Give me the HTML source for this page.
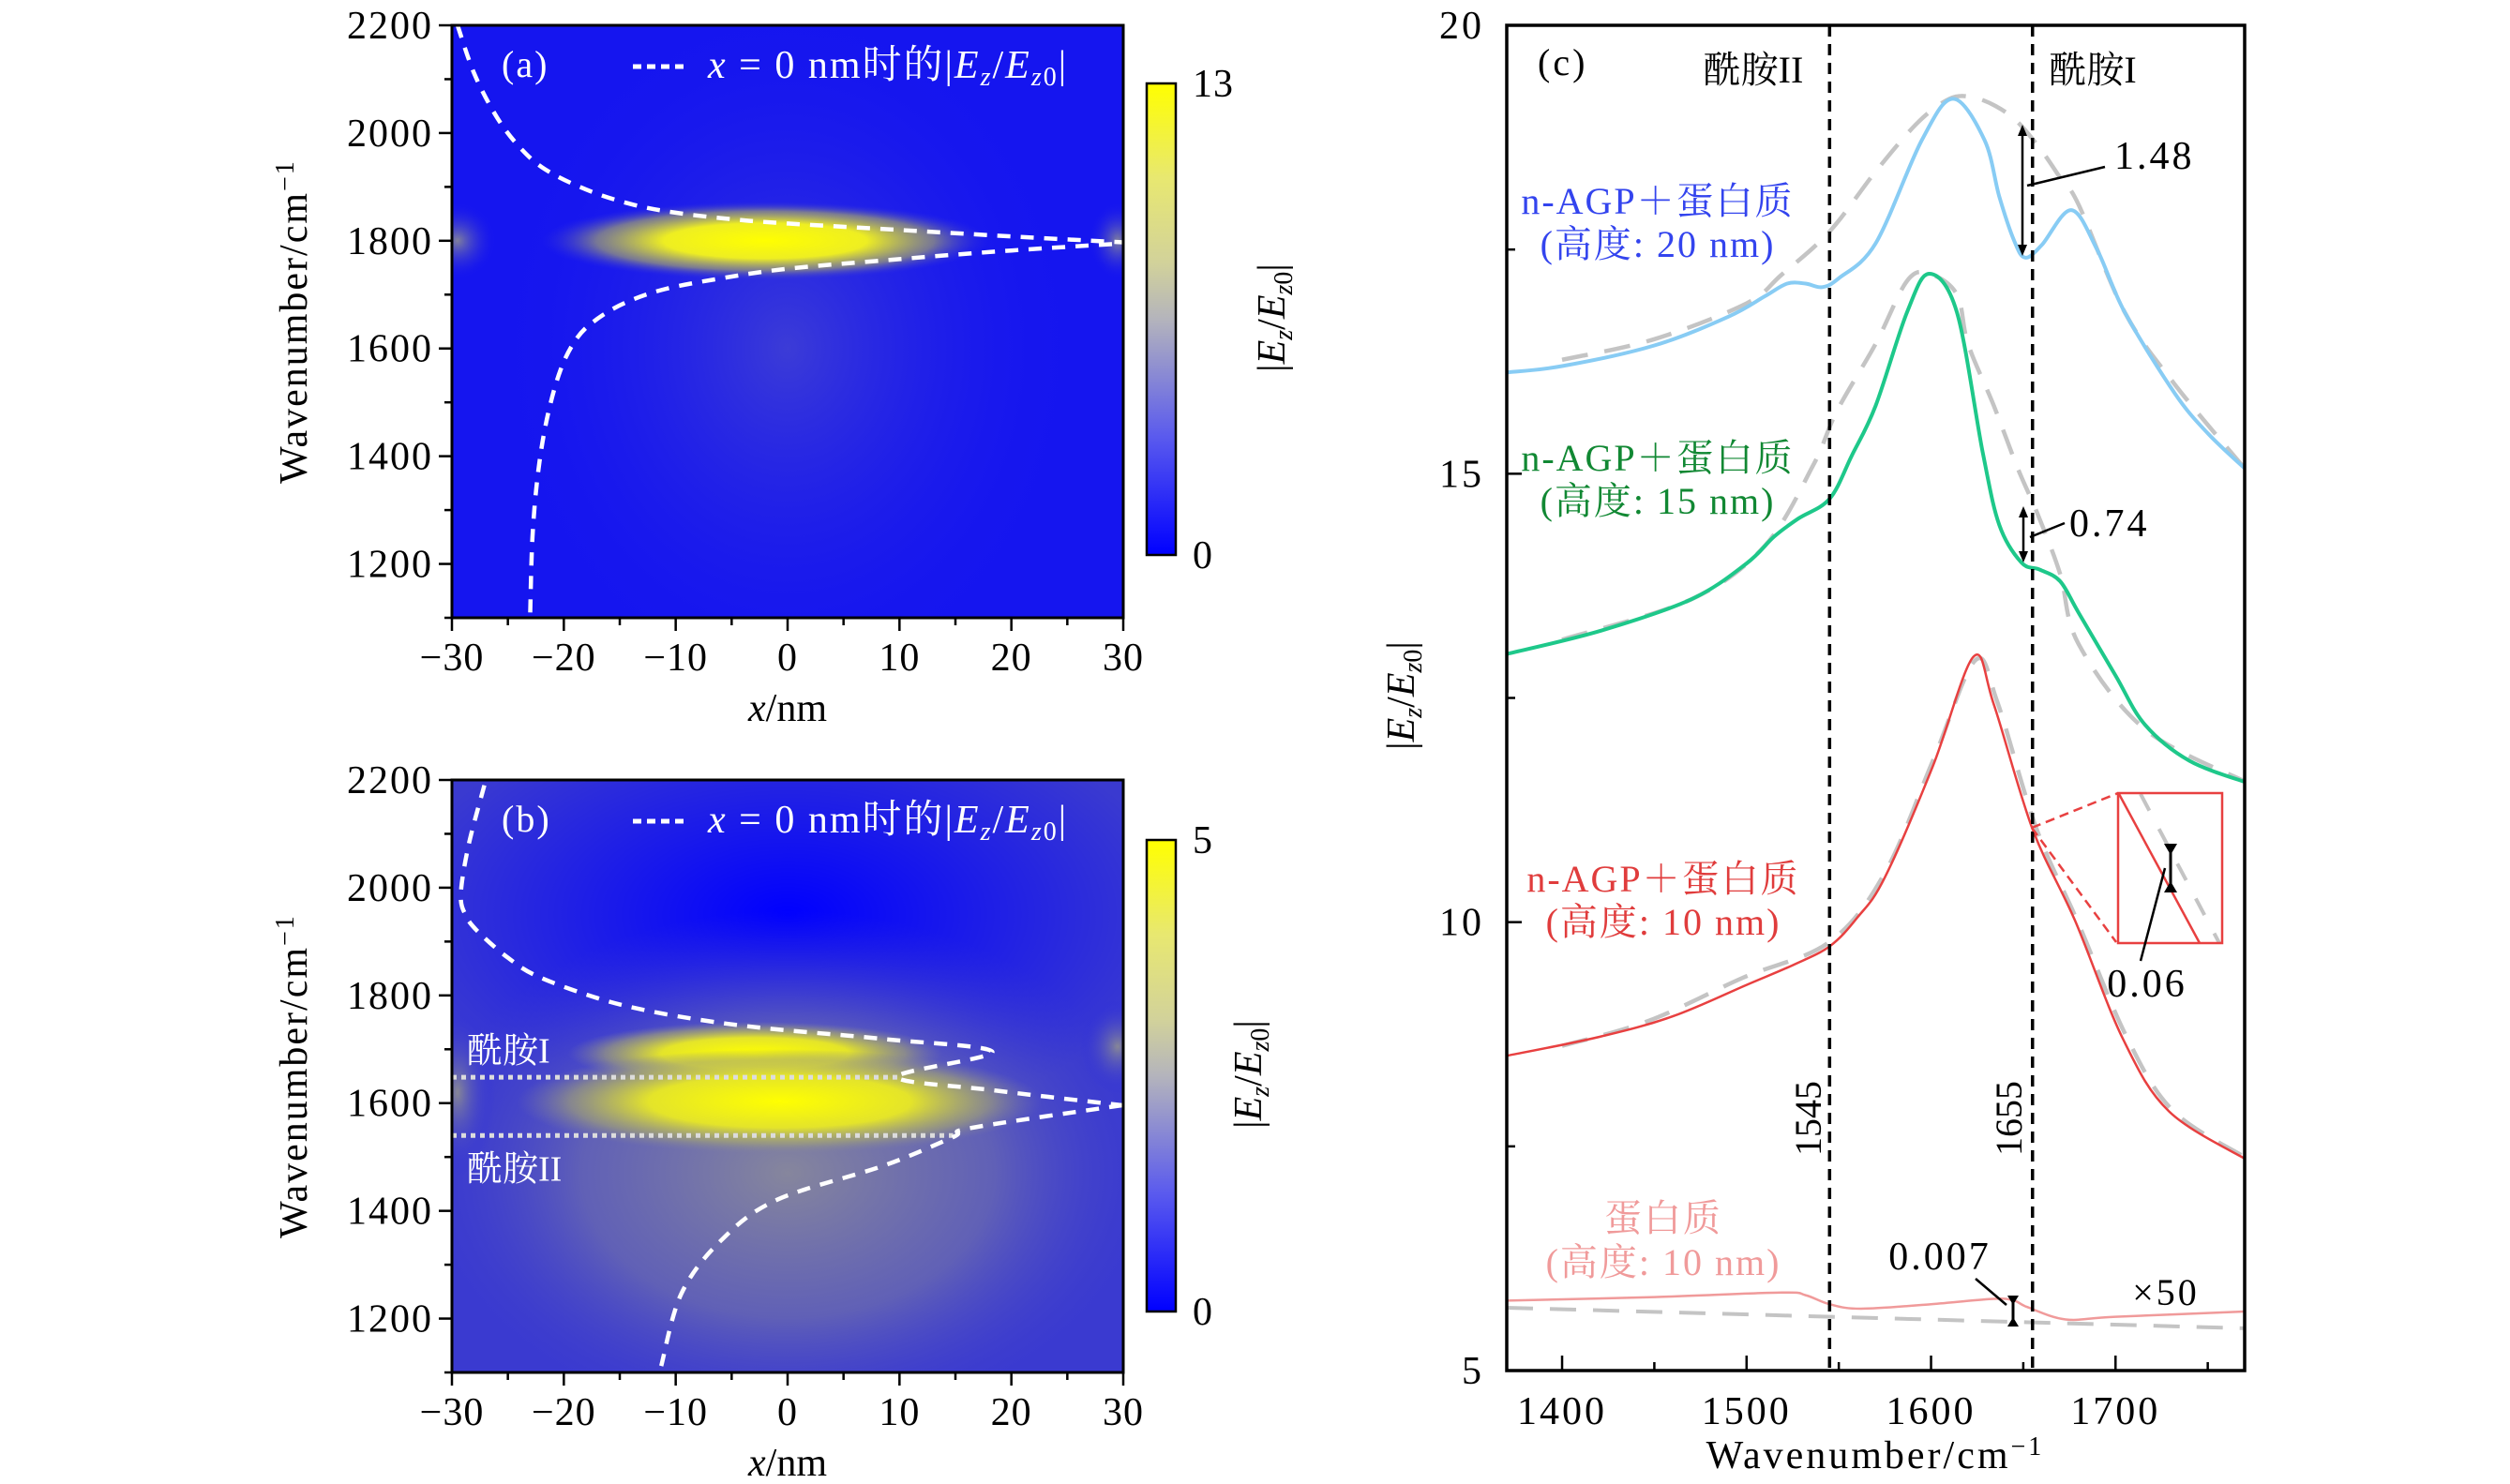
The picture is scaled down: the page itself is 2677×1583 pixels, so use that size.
<!DOCTYPE html>
<html><head><meta charset="utf-8">
<style>
html,body{margin:0;padding:0;background:#fff;}
svg{display:block;font-family:"Liberation Serif","Noto Serif CJK SC","Noto Sans CJK SC",serif;}
</style></head>
<body>
<svg id="fig" width="2677" height="1583" viewBox="0 0 2677 1583" xmlns="http://www.w3.org/2000/svg">
<defs>
  <linearGradient id="cbar" x1="0" y1="1" x2="0" y2="0">
    <stop offset="0" stop-color="#0000ff"/>
    <stop offset="0.25" stop-color="#5a5aee"/>
    <stop offset="0.5" stop-color="#b4b4bc"/>
    <stop offset="0.62" stop-color="#d2d29a"/>
    <stop offset="0.8" stop-color="#e8e870"/>
    <stop offset="1" stop-color="#ffff00"/>
  </linearGradient>
  <radialGradient id="hotA"><stop offset="0" stop-color="#ffff00"/><stop offset="0.45" stop-color="#eeee22"/><stop offset="0.75" stop-color="#a0a070" stop-opacity="0.7"/><stop offset="1" stop-color="#3030e0" stop-opacity="0"/></radialGradient>
  <radialGradient id="hotB"><stop offset="0" stop-color="#ffff00"/><stop offset="0.5" stop-color="#e4e42a"/><stop offset="0.8" stop-color="#a8a870" stop-opacity="0.6"/><stop offset="1" stop-color="#8080a0" stop-opacity="0"/></radialGradient>
  <radialGradient id="haloA"><stop offset="0" stop-color="#4040d4" stop-opacity="0.9"/><stop offset="1" stop-color="#1414f0" stop-opacity="0"/></radialGradient>
  <radialGradient id="haloB"><stop offset="0" stop-color="#8a8a9a" stop-opacity="0.95"/><stop offset="0.55" stop-color="#6a6ab0" stop-opacity="0.8"/><stop offset="1" stop-color="#3a3ad0" stop-opacity="0"/></radialGradient>
  <radialGradient id="darkB"><stop offset="0" stop-color="#0000ff" stop-opacity="1"/><stop offset="1" stop-color="#0000ff" stop-opacity="0"/></radialGradient>
  <radialGradient id="edgeSpot"><stop offset="0" stop-color="#9a9a88" stop-opacity="0.8"/><stop offset="1" stop-color="#2020e8" stop-opacity="0"/></radialGradient>
  <clipPath id="clipA"><rect x="482" y="27" width="716" height="632"/></clipPath>
  <clipPath id="clipB"><rect x="482" y="832" width="716" height="632"/></clipPath>
  <clipPath id="clipC"><rect x="1607" y="27" width="787" height="1435"/></clipPath>
</defs>
<g id="panelA"></g>
<g id="panelB"></g>
<g id="panelC"></g>
</svg>
<script>
// ---------- Panel (c) data ----------
const blueX = [1370,1400,1450,1490,1510,1522,1532,1541,1550,1570,1595,1612,1629,1637,1645,1651,1660,1676,1690,1705,1732,1750,1770];
const blueY = [16.13,16.2,16.43,16.75,16.98,17.12,17.12,17.08,17.18,17.57,18.72,19.18,18.72,18.09,17.6,17.41,17.55,17.94,17.5,16.8,15.9,15.45,15.06];
const blueRefX = [1400,1450,1500,1519,1545,1570,1593,1610,1622,1635,1647,1660,1670,1680,1705,1732,1770];
const blueRefY = [16.27,16.5,16.9,17.22,17.7,18.37,18.92,19.18,19.2,19.1,18.92,18.6,18.3,18.0,16.8,16.0,15.06];
const greenX = [1370,1421,1470,1500,1515,1528,1545,1557,1570,1587,1599,1614,1628,1637,1649,1659,1670,1680,1700,1716,1740,1772];
const greenY = [12.99,13.25,13.6,14.0,14.3,14.5,14.72,15.2,15.76,16.8,17.23,16.8,15.24,14.43,14.01,13.93,13.8,13.45,12.75,12.2,11.8,11.55];
const greenRefX = [1400,1470,1510,1536,1549,1570,1587,1599,1614,1620,1634,1647,1658,1670,1680,1716,1772];
const greenRefY = [13.15,13.6,14.2,15.09,15.7,16.45,17.15,17.23,17.0,16.45,15.76,15.06,14.54,13.88,13.1,12.15,11.55];
const redX = [1370,1420,1460,1500,1525,1545,1560,1575,1601,1623,1634,1655,1678,1704,1729,1772];
const redY = [8.51,8.72,8.95,9.3,9.52,9.73,10.05,10.5,11.74,12.96,12.43,11.04,10.02,8.7,7.89,7.34];
const redRefX = [1400,1447,1498,1545,1575,1601,1624,1636,1657,1680,1706,1731,1770];
const redRefY = [8.62,8.9,9.38,9.78,10.55,11.8,12.92,12.45,11.05,9.98,8.72,7.9,7.38];
const pinkX = [1370,1450,1519,1532,1545,1562,1600,1634,1645,1652,1673,1700,1772];
const pinkY = [5.78,5.82,5.87,5.84,5.74,5.69,5.74,5.80,5.78,5.71,5.57,5.60,5.66];
const pinkRefX = [1370,1772];
const pinkRefY = [5.70,5.47];
const cYTicks = [5,10,15,20];
const cXTicks = [1400,1500,1600,1700];
const amideLines = [1545,1655];

// ---------- Panel (a)/(b) dashed curve data (x in nm, wavenumber) ----------
const aUpperX = [-29.5,-28,-26,-24,-21.7,-18,-14,-10,-5,0,10,20,30];
const aUpperW = [2200,2110,2030,1975,1933,1895,1868,1852,1840,1832,1820,1808,1797];
const aLowerX = [-23,-22.8,-22.3,-21.5,-20.3,-18.8,-17,-14.5,-11,-6,0,10,20,30];
const aLowerW = [1110,1250,1370,1470,1560,1620,1655,1685,1710,1730,1748,1766,1782,1795];
const bUpperX = [-27.1,-28.5,-29.2,-28.8,-27.7,-25,-22.3,-17,-12.6,-7,-1,8.6,18.3,9.8,18.3,29.9];
const bUpperW = [2190,2080,1989,1950,1919,1870,1835,1795,1772,1752,1737,1719,1695,1649,1624,1596];
const bLowerX = [29.9,16.4,14.8,8.6,-1,-6,-9.5,-11.3];
const bLowerW = [1596,1554,1537,1484,1420,1344,1246,1112];
const amideW = [1648,1540];
const amideEnd = [9.8,14.8];
const heatXTicks = [-30,-20,-10,0,10,20,30];
const heatYTicks = [1200,1400,1600,1800,2000,2200];

const NS = "http://www.w3.org/2000/svg";
function mk(tag, attrs, parent, text){
  const e = document.createElementNS(NS, tag);
  for (const k in attrs) e.setAttribute(k, attrs[k]);
  if (text !== undefined) e.textContent = text;
  parent.appendChild(e);
  return e;
}
function smoothPath(pts){
  if (pts.length < 3){ return "M"+pts.map(p=>p[0].toFixed(1)+","+p[1].toFixed(1)).join(" L"); }
  let d = "M"+pts[0][0].toFixed(1)+","+pts[0][1].toFixed(1);
  for (let i=0;i<pts.length-1;i++){
    const p0=pts[i-1]||pts[i], p1=pts[i], p2=pts[i+1], p3=pts[i+2]||p2;
    const c1=[p1[0]+(p2[0]-p0[0])/6, p1[1]+(p2[1]-p0[1])/6];
    const c2=[p2[0]-(p3[0]-p1[0])/6, p2[1]-(p3[1]-p1[1])/6];
    d += " C"+c1[0].toFixed(1)+","+c1[1].toFixed(1)+" "+c2[0].toFixed(1)+","+c2[1].toFixed(1)+" "+p2[0].toFixed(1)+","+p2[1].toFixed(1);
  }
  return d;
}
const EZ = '|<tspan font-style="italic">E</tspan><tspan font-style="italic" font-size="28" dy="8">z</tspan><tspan dy="-8">/</tspan><tspan font-style="italic">E</tspan><tspan font-style="italic" font-size="28" dy="8">z</tspan><tspan font-size="28">0</tspan><tspan dy="-8">|</tspan>';

// ================= Heatmap panels =================
function heatPanel(g, top, label, cbTop, cbMax, upX, upW, loX, loW, isB){
  const L=482, R=1198, B=top+632;
  const sx = x => L + (x+30)/60*(R-L);
  const sy = w => top + (2200-w)/1100*632;
  const clip = isB ? "url(#clipB)" : "url(#clipA)";
  const hg = mk("g",{"clip-path":clip},g);
  
  
  if (!isB){
    mk("rect",{x:L,y:top,width:R-L,height:632,fill:"#1515ef"},hg);
    mk("ellipse",{cx:sx(0),cy:sy(1600),rx:320,ry:380,fill:"url(#haloA)"},hg);
    mk("ellipse",{cx:sx(-29.5),cy:sy(1800),rx:40,ry:40,fill:"url(#edgeSpot)"},hg);
    mk("ellipse",{cx:sx(29.5),cy:sy(1800),rx:30,ry:40,fill:"url(#edgeSpot)"},hg);
    mk("ellipse",{cx:sx(-2),cy:sy(1800),rx:240,ry:42,fill:"url(#hotA)"},hg);
  } else {
    mk("rect",{x:L,y:top,width:R-L,height:632,fill:"#3a3ad0"},hg);
    mk("ellipse",{cx:sx(0),cy:sy(1950),rx:420,ry:230,fill:"url(#darkB)"},hg);
    mk("ellipse",{cx:sx(0),cy:sy(1470),rx:400,ry:280,fill:"url(#haloB)"},hg);
    mk("ellipse",{cx:sx(-29.5),cy:sy(1620),rx:40,ry:90,fill:"url(#edgeSpot)"},hg);
    mk("ellipse",{cx:sx(29.5),cy:sy(1705),rx:40,ry:50,fill:"url(#edgeSpot)"},hg);
    mk("ellipse",{cx:sx(-2.9),cy:sy(1692),rx:200,ry:34,fill:"url(#hotB)"},hg);
    mk("ellipse",{cx:sx(-0.7),cy:sy(1603),rx:280,ry:56,fill:"url(#hotB)"},hg);
    for (let i=0;i<amideW.length;i++){
      const ln = mk("line",{x1:L,x2:sx(amideEnd[i]),y1:sy(amideW[i]),y2:sy(amideW[i]),stroke:"#dcdcdc","stroke-width":5,"stroke-dasharray":"5 5"},hg);
      
      
    }
    const t1 = mk("text",{x:498,y:sy(1700)+14,"font-size":38,fill:"#fff"},hg,"酰胺I");
    
    
    const t2 = mk("text",{x:498,y:sy(1480)+14,"font-size":38,fill:"#fff"},hg,"酰胺II");
    
    
  }
  const p1 = mk("path",{d:smoothPath(upX.map((x,i)=>[sx(x),sy(upW[i])])),fill:"none",stroke:"#fff","stroke-width":4.5,"stroke-dasharray":"14 11"},hg);
  
  
  const p2 = mk("path",{d:smoothPath(loX.map((x,i)=>[sx(x),sy(loW[i])])),fill:"none",stroke:"#fff","stroke-width":4.5,"stroke-dasharray":"14 11"},hg);
  
  
  const pl = mk("text",{x:535,y:top+55,"font-size":40,fill:"#fff","letter-spacing":2},g,label);
  
  
  const ll = mk("line",{x1:675,x2:735,y1:top+44,y2:top+44,stroke:"#fff","stroke-width":5,"stroke-dasharray":"9 6"},g);
  
  
  const lt = mk("text",{x:755,y:top+56,"font-size":42,fill:"#fff","letter-spacing":2},g);
  
  
  lt.innerHTML = '<tspan font-style="italic">x</tspan> = 0 nm时的' + EZ;
  const fr = mk("rect",{x:L,y:top,width:R-L,height:632,fill:"none",stroke:"#000","stroke-width":3},g);
  
  
  for (let v=-30; v<=30; v+=5){
    const major = (v%10===0);
    mk("line",{x1:sx(v),x2:sx(v),y1:B,y2:B+(major?14:8),stroke:"#000","stroke-width":2.5},g);
  }
  heatXTicks.forEach(v=>{
    const t = mk("text",{x:sx(v),y:B+56,"font-size":42,"text-anchor":"middle","letter-spacing":1},g,(v<0?"−":"")+Math.abs(v));
    
    
  });
  for (let w=1100; w<=2200; w+=100){
    const major = (w%200===0);
    mk("line",{x1:L,x2:L-(major?14:8),y1:sy(w),y2:sy(w),stroke:"#000","stroke-width":2.5},g);
  }
  heatYTicks.forEach(w=>{
    const t = mk("text",{x:L-20,y:sy(w)+14,"font-size":42,"text-anchor":"end","letter-spacing":2},g,String(w));
    
    
  });
  const xl = mk("text",{x:840,y:B+110,"font-size":42,"text-anchor":"middle"},g);
  
  
  xl.innerHTML = '<tspan font-style="italic">x</tspan>/nm';
  const yl = mk("text",{x:0,y:0,"font-size":42,"text-anchor":"middle","letter-spacing":2,transform:"translate(327,"+(top+316)+") rotate(-90)"},g);
  
  
  yl.innerHTML = 'Wavenumber/cm<tspan font-size="28" dy="-14">−1</tspan>';
  const cb = mk("rect",{x:1223,y:cbTop,width:31,height:503,fill:"url(#cbar)",stroke:"#000","stroke-width":2.5},g);
  
  
  const c1 = mk("text",{x:1272,y:cbTop+14,"font-size":42,"letter-spacing":1},g,String(cbMax));
  
  
  const c0 = mk("text",{x:1272,y:cbTop+517,"font-size":42},g,"0");
  
  
  const cl = mk("text",{x:0,y:0,"font-size":42,"text-anchor":"middle",transform:"translate("+(isB?1345:1370)+","+(cbTop+250)+") rotate(-90)"},g);
  
  
  cl.innerHTML = EZ;
}
heatPanel(document.getElementById("panelA"),27,"(a)",89,13,aUpperX,aUpperW,aLowerX,aLowerW,false);
heatPanel(document.getElementById("panelB"),832,"(b)",896,5,bUpperX,bUpperW,bLowerX,bLowerW,true);

// ================= Panel (c) =================
(function(){
  const g = document.getElementById("panelC");
  const L=1607, R=2394, T=27, B=1462;
  const sx = x => L + (x-1370)/400*(R-L);
  const sy = v => T + (20-v)/15*(B-T);
  const pg = mk("g",{"clip-path":"url(#clipC)"},g);
  function series(xs, ys, color, w, dash, name){
    const p = mk("path",{d:smoothPath(xs.map((x,i)=>[sx(x),sy(ys[i])])),fill:"none",stroke:color,"stroke-width":w},pg);
    if (dash) p.setAttribute("stroke-dasharray", dash);
    
    
  }
  series(blueRefX, blueRefY, "#c4c4c4", 4.5, "28 18", "blue-reference-curve");
  series(greenRefX, greenRefY, "#c4c4c4", 4.5, "28 18", "green-reference-curve");
  series(redRefX, redRefY, "#c4c4c4", 4.5, "28 18", "red-reference-curve");
  series(pinkRefX, pinkRefY, "#c4c4c4", 4, "28 18", "pink-reference-curve");
  series(blueX, blueY, "#88ccf4", 4, null, "curve-20nm");
  series(greenX, greenY, "#1ec88a", 4, null, "curve-15nm");
  series(redX, redY, "#e84040", 2.5, null, "curve-10nm");
  series(pinkX, pinkY, "#f09a9a", 2.5, null, "curve-protein");
  amideLines.forEach((a,i)=>{
    const l = mk("line",{x1:sx(a),x2:sx(a),y1:T,y2:B,stroke:"#000","stroke-width":3.5,"stroke-dasharray":"12 8"},g);
    
    
  });
  const fr = mk("rect",{x:L,y:T,width:R-L,height:B-T,fill:"none",stroke:"#000","stroke-width":3.5},g);
  
  
  for (let v=1400; v<=1750; v+=50){
    mk("line",{x1:sx(v),x2:sx(v),y1:B,y2:B-(v%100===0?16:9),stroke:"#000","stroke-width":2.5},g);
  }
  cXTicks.forEach(v=>{
    const t = mk("text",{x:sx(v),y:B+57,"font-size":42,"text-anchor":"middle","letter-spacing":3},g,String(v));
    
    
  });
  for (let v=5; v<=20; v+=2.5){
    mk("line",{x1:L,x2:L+(v%5===0?16:9),y1:sy(v),y2:sy(v),stroke:"#000","stroke-width":2.5},g);
  }
  cYTicks.forEach(v=>{
    const t = mk("text",{x:L-24,y:sy(v)+14,"font-size":42,"text-anchor":"end","letter-spacing":3},g,String(v));
    
    
  });
  const xl = mk("text",{x:2000,y:1566,"font-size":42,"text-anchor":"middle","letter-spacing":3},g);
  
  
  xl.innerHTML = 'Wavenumber/cm<tspan font-size="28" dy="-14">−1</tspan>';
  const yl = mk("text",{x:0,y:0,"font-size":42,"text-anchor":"middle",transform:"translate(1508,742) rotate(-90)"},g);
  
  
  yl.innerHTML = EZ;
  function txt(x,y,s,opts,name){
    const a = Object.assign({x:x,y:y,"font-size":40},opts||{});
    const t = mk("text",a,g,s);
    
    
    return t;
  }
  const LS = {"text-anchor":"middle","letter-spacing":2};
  txt(1640,80,"(c)",{"font-size":40,"letter-spacing":3},"panel-label");
  txt(1870,88,"酰胺II",{"text-anchor":"middle","font-size":40},"amide-ii-title");
  txt(2232,88,"酰胺I",{"text-anchor":"middle","font-size":40},"amide-i-title");
  txt(1768,228,"n-AGP＋蛋白质",Object.assign({fill:"#3344ee"},LS),"label-20nm-line1");
  txt(1768,274,"(高度: 20 nm)",Object.assign({fill:"#3344ee"},LS),"label-20nm-line2");
  txt(1768,502,"n-AGP＋蛋白质",Object.assign({fill:"#118833"},LS),"label-15nm-line1");
  txt(1768,548,"(高度: 15 nm)",Object.assign({fill:"#118833"},LS),"label-15nm-line2");
  txt(1774,951,"n-AGP＋蛋白质",Object.assign({fill:"#e03c3c"},LS),"label-10nm-line1");
  txt(1774,997,"(高度: 10 nm)",Object.assign({fill:"#e03c3c"},LS),"label-10nm-line2");
  txt(1774,1313,"蛋白质",Object.assign({fill:"#f09a9a"},LS),"label-protein-line1");
  txt(1774,1360,"(高度: 10 nm)",Object.assign({fill:"#f09a9a"},LS),"label-protein-line2");
  txt(0,0,"1545",{"text-anchor":"middle","font-size":40,transform:"translate(1942,1193) rotate(-90)"},"label-1545");
  txt(0,0,"1655",{"text-anchor":"middle","font-size":40,transform:"translate(2156,1193) rotate(-90)"},"label-1655");
  function arrowV(x,y1,y2,name){
    const gg = mk("g",{},g);
    
    
    mk("line",{x1:x,x2:x,y1:y1+8,y2:y2-8,stroke:"#000","stroke-width":2.5},gg);
    mk("path",{d:`M${x-5},${y1+12} L${x},${y1} L${x+5},${y1+12}Z`,fill:"#000"},gg);
    mk("path",{d:`M${x-5},${y2-12} L${x},${y2} L${x+5},${y2-12}Z`,fill:"#000"},gg);
  }
  arrowV(2157,133,273,"arrow-1-48");
  mk("line",{x1:2162,y1:198,x2:2245,y2:178,stroke:"#000","stroke-width":2.5},g);
  txt(2255,180,"1.48",{"font-size":42,"letter-spacing":3},"annotation-1-48");
  arrowV(2158,540,600,"arrow-0-74");
  mk("line",{x1:2165,y1:573,x2:2202,y2:558,stroke:"#000","stroke-width":2.5},g);
  txt(2207,572,"0.74",{"font-size":42,"letter-spacing":3},"annotation-0-74");
  const ins = mk("g",{},g);
  
  
  mk("line",{x1:2167,y1:883,x2:2259,y2:846,stroke:"#e84040","stroke-width":2.5,"stroke-dasharray":"10 6"},ins);
  mk("line",{x1:2167,y1:883,x2:2257,y2:1005,stroke:"#e84040","stroke-width":2.5,"stroke-dasharray":"10 6"},ins);
  mk("line",{x1:2283,y1:847,x2:2367,y2:1006,stroke:"#c4c4c4","stroke-width":4,"stroke-dasharray":"20 22"},ins);
  mk("line",{x1:2260,y1:847,x2:2346,y2:1006,stroke:"#e84040","stroke-width":2.5},ins);
  mk("rect",{x:2259,y:846,width:111,height:160,fill:"none",stroke:"#e84040","stroke-width":2.5},ins);
  mk("line",{x1:2315,x2:2315,y1:902,y2:950,stroke:"#000","stroke-width":3},ins);
  mk("path",{d:"M2308,900 L2322,900 L2315,912Z M2308,952 L2322,952 L2315,940Z",fill:"#000"},ins);
  mk("line",{x1:2309,y1:926,x2:2283,y2:1025,stroke:"#000","stroke-width":2.5},ins);
  txt(2290,1063,"0.06",{"text-anchor":"middle","font-size":42,"letter-spacing":3},"annotation-0-06");
  mk("line",{x1:2107,y1:1364,x2:2140,y2:1392,stroke:"#000","stroke-width":2.5},g);
  mk("line",{x1:2147,x2:2147,y1:1384,y2:1413,stroke:"#000","stroke-width":3},g);
  mk("path",{d:"M2141,1382 L2153,1382 L2147,1392Z M2141,1415 L2153,1415 L2147,1405Z",fill:"#000"},g);
  txt(2069,1354,"0.007",{"text-anchor":"middle","font-size":42,"letter-spacing":3},"annotation-0-007");
  txt(2310,1392,"×50",{"text-anchor":"middle","font-size":40,"letter-spacing":3},"scale-factor-label");
})();
</script>
</body></html>
